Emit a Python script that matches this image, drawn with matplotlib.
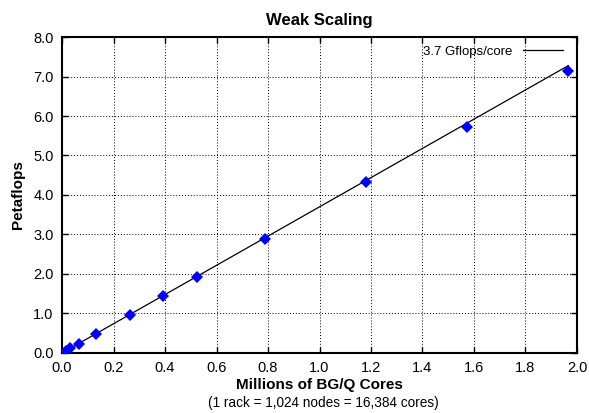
import matplotlib.pyplot as plt
import numpy as np

plt.rcParams['font.family'] = ['Liberation Sans', 'DejaVu Sans']

# racks measured (1 rack = 16,384 cores)
racks = [1, 2, 4, 8, 16, 24, 32, 48, 72, 96, 120]
petaflops = [0.06, 0.12, 0.24, 0.48, 0.97, 1.45, 1.92, 2.88, 4.32, 5.73, 7.15]
gflops_per_core = 3.7

cores_m = np.array(racks) * 16384 / 1e6
fit_x = np.array([0.0, cores_m[-1]])
fit_y = gflops_per_core * fit_x

fig = plt.figure(figsize=(5.89, 4.13), dpi=100)
ax = fig.add_axes([0.1053, 0.1453, 0.8743, 0.7651])

ax.plot(fit_x, fit_y, color='black', lw=0.9, label='3.7 Gflops/core', zorder=3)
ax.plot(cores_m, petaflops, 'D', color='#0000ff', markersize=6.5, markeredgewidth=0, zorder=4)

ax.set_xlim(0, 2.0)
ax.set_ylim(0, 8.0)
ax.set_xticks(np.arange(0, 2.01, 0.2))
ax.set_yticks(np.arange(0, 8.01, 1.0))
ax.set_xticklabels([f'{v:.1f}' for v in np.arange(0, 2.01, 0.2)])
ax.set_yticklabels([f'{v:.1f}' for v in np.arange(0, 8.01, 1.0)])
ax.tick_params(direction='in', length=4, width=1, labelsize=10.5, pad=6, top=True, right=True,
               labeltop=False, labelright=False)
ax.grid(True, linestyle=(0, (1, 2)), color='black', lw=0.7)
for s in ax.spines.values():
    s.set_linewidth(1.5)

ax.set_title('Weak Scaling', fontsize=12, fontweight='bold', pad=9)
ax.set_ylabel('Petaflops', fontsize=11, fontweight='bold', labelpad=6)
ax.set_xlabel('Millions of BG/Q Cores', fontsize=11, fontweight='bold', labelpad=2)
fig.text(0.549, 0.024, '(1 rack = 1,024 nodes = 16,384 cores)',
         ha='center', va='center', fontsize=9.8)

ax.legend(loc='upper right', bbox_to_anchor=(0.9825, 0.9905), frameon=False,
          markerfirst=False, fontsize=9.5, handlelength=3, borderaxespad=0)

fig.savefig('out.png', dpi=100)
